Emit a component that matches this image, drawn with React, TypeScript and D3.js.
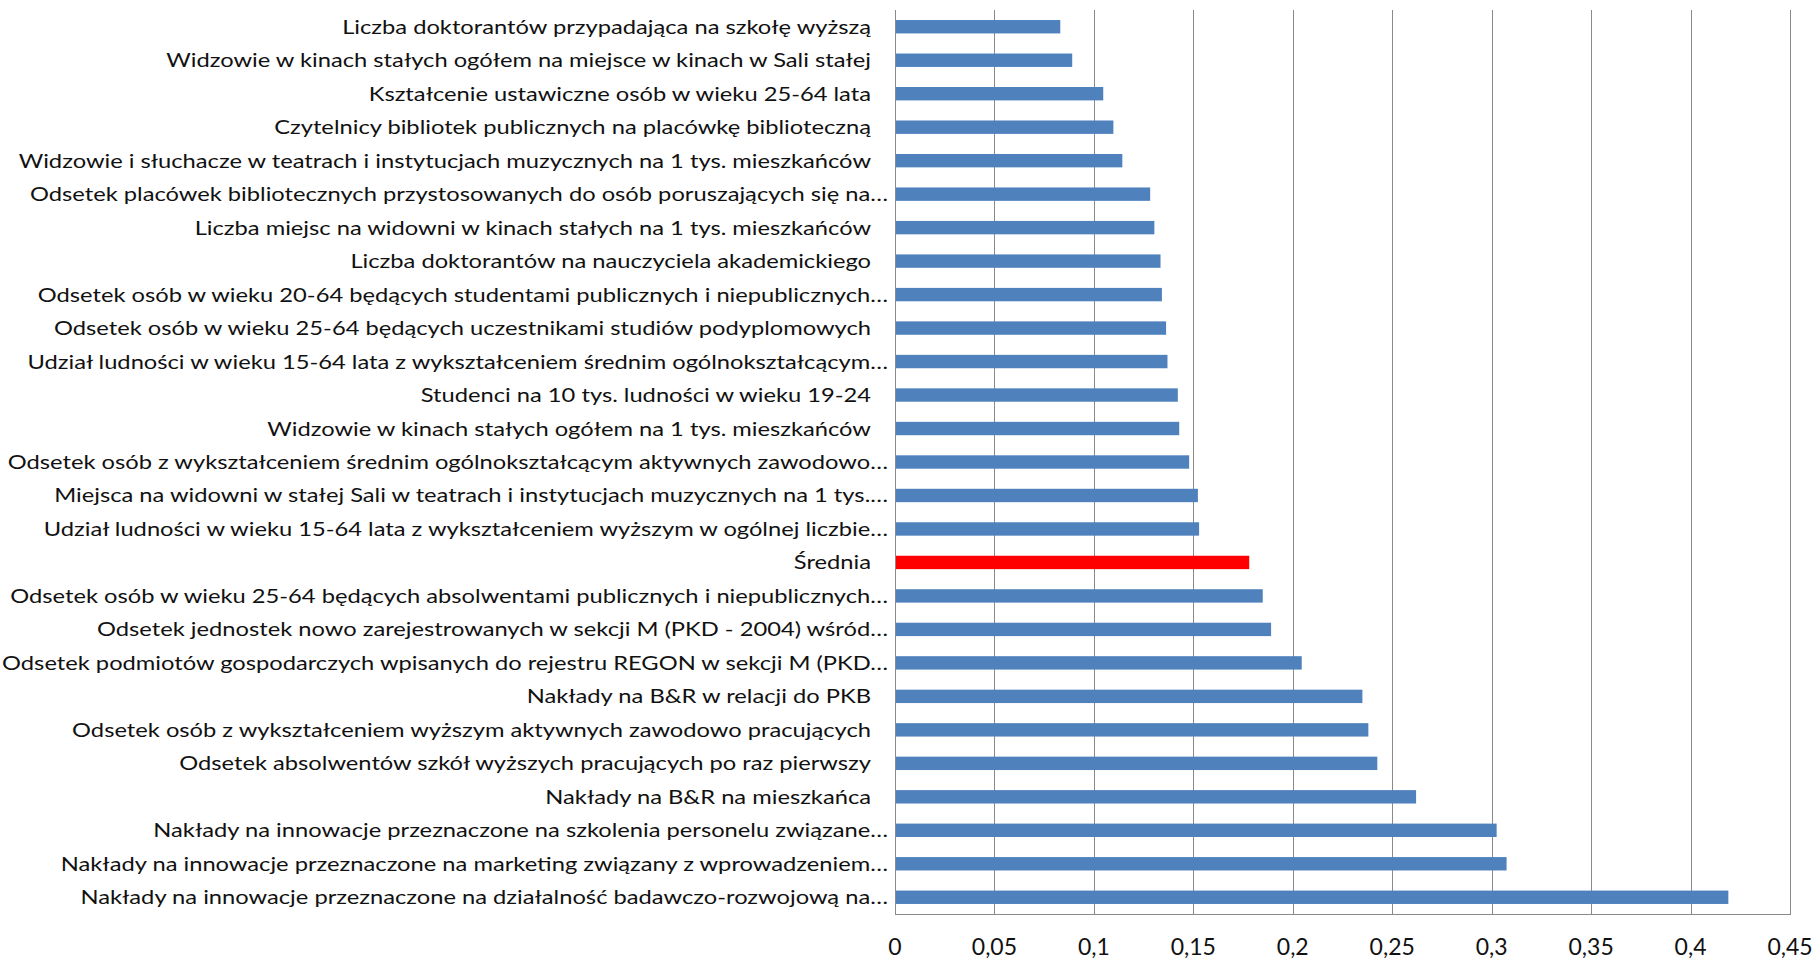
import React, { useLayoutEffect, useRef, useState, useEffect } from "react";
import * as d3 from "d3";

// Indicator names, top to bottom
const categories: string[] = [
  "Liczba doktorantów przypadająca na szkołę wyższą",
  "Widzowie w kinach stałych ogółem na miejsce w kinach w Sali stałej",
  "Kształcenie ustawiczne osób w wieku 25-64 lata",
  "Czytelnicy bibliotek publicznych na placówkę biblioteczną",
  "Widzowie i słuchacze w teatrach i instytucjach muzycznych na 1 tys. mieszkańców",
  "Odsetek placówek bibliotecznych przystosowanych do osób poruszających się na…",
  "Liczba miejsc na widowni w kinach stałych na 1 tys. mieszkańców",
  "Liczba doktorantów na nauczyciela akademickiego",
  "Odsetek osób w wieku 20-64 będących studentami publicznych i niepublicznych…",
  "Odsetek osób w wieku 25-64 będących uczestnikami studiów podyplomowych",
  "Udział ludności w wieku 15-64 lata z wykształceniem średnim ogólnokształcącym…",
  "Studenci na 10 tys. ludności w wieku 19-24",
  "Widzowie w kinach stałych ogółem na 1 tys. mieszkańców",
  "Odsetek osób z wykształceniem średnim ogólnokształcącym aktywnych zawodowo…",
  "Miejsca na widowni w stałej Sali w teatrach i instytucjach muzycznych na 1 tys.…",
  "Udział ludności w wieku 15-64 lata z wykształceniem wyższym w ogólnej liczbie…",
  "Średnia",
  "Odsetek osób w wieku 25-64 będących absolwentami publicznych i niepublicznych…",
  "Odsetek jednostek nowo zarejestrowanych w sekcji M (PKD - 2004) wśród…",
  "Odsetek podmiotów gospodarczych wpisanych do rejestru REGON w sekcji M (PKD…",
  "Nakłady na B&R w relacji do PKB",
  "Odsetek osób z wykształceniem wyższym aktywnych zawodowo pracujących",
  "Odsetek absolwentów szkół wyższych pracujących po raz pierwszy",
  "Nakłady na B&R na mieszkańca",
  "Nakłady na innowacje przeznaczone na szkolenia personelu związane…",
  "Nakłady na innowacje przeznaczone na marketing związany z wprowadzeniem…",
  "Nakłady na innowacje przeznaczone na działalność badawczo-rozwojową na…",
];

const values: number[] = [
  0.0831, 0.0891, 0.1047, 0.1098, 0.1143, 0.1283, 0.1304, 0.1335, 0.1342,
  0.1363, 0.137, 0.1422, 0.1429, 0.1479, 0.1523, 0.1529, 0.1781, 0.1849,
  0.1891, 0.2045, 0.235, 0.238, 0.2425, 0.262, 0.3025, 0.3075, 0.419,
];

const averageLabel = "Średnia";

const xTicks: number[] = [0, 0.05, 0.1, 0.15, 0.2, 0.25, 0.3, 0.35, 0.4, 0.45];

const WIDTH = 1816;
const HEIGHT = 960;
const plot = { left: 895, right: 1790, top: 10, bottom: 914 };
const BAR_COLOR = "#4F81BD";
const AVG_COLOR = "#FF0000";
const GRID_COLOR = "#8A8A8A";
const FONT = "Lato, 'Open Sans', sans-serif";

const plLocale = d3.formatLocale({
  decimal: ",",
  thousands: " ",
  grouping: [3],
  currency: ["", " zł"],
});
const fmt = plLocale.format("~g");

export default function App() {
  const refLabel = useRef<SVGTextElement | null>(null);
  const [squeeze, setSqueeze] = useState(1);

  useEffect(() => {
    document.body.style.margin = "0";
  }, []);

  // Fit the label font's width to the narrow label column
  useLayoutEffect(() => {
    if (refLabel.current) {
      const w = refLabel.current.getComputedTextLength();
      if (w > 0) setSqueeze(705 / w);
    }
  }, []);

  const x = d3.scaleLinear().domain([0, 0.45]).range([plot.left, plot.right]);
  const y = d3
    .scaleBand<string>()
    .domain(categories)
    .range([plot.top, plot.bottom])
    .paddingInner(0.6)
    .paddingOuter(0.3);

  return (
    <svg
      width={WIDTH}
      height={HEIGHT}
      style={{ display: "block", background: "#fff" }}
      fontFamily={FONT}
    >
      {/* vertical gridlines */}
      {xTicks.map((t) => (
        <line
          key={"g" + t}
          x1={Math.round(x(t)) + 0.5}
          x2={Math.round(x(t)) + 0.5}
          y1={plot.top}
          y2={plot.bottom}
          stroke={GRID_COLOR}
          strokeWidth={1}
        />
      ))}
      {/* bottom axis line */}
      <line
        x1={plot.left}
        x2={plot.right + 1}
        y1={plot.bottom + 0.5}
        y2={plot.bottom + 0.5}
        stroke={GRID_COLOR}
        strokeWidth={1}
      />

      {/* bars */}
      {categories.map((c, i) => (
        <rect
          key={"b" + i}
          x={x(0) + 1}
          y={y(c)!}
          width={x(values[i]) - x(0) - 1}
          height={y.bandwidth()}
          fill={c === averageLabel ? AVG_COLOR : BAR_COLOR}
        />
      ))}

      {/* category labels */}
      {categories.map((c, i) => {
        const cy = y(c)! + y.bandwidth() / 2;
        const ax = c.endsWith("…") ? 888 : 871;
        return (
          <text
            key={"l" + i}
            ref={i === 1 ? refLabel : undefined}
            transform={`translate(${ax},${cy}) scale(${squeeze},1)`}
            textAnchor="end"
            dy="0.35em"
            fontSize={20}
            fill="#111"
          >
            {c}
          </text>
        );
      })}

      {/* value axis labels */}
      {xTicks.map((t) => (
        <text
          key={"t" + t}
          x={x(t)}
          y={955}
          textAnchor="middle"
          fontSize={23}
          fill="#111"
        >
          {fmt(t)}
        </text>
      ))}
    </svg>
  );
}
